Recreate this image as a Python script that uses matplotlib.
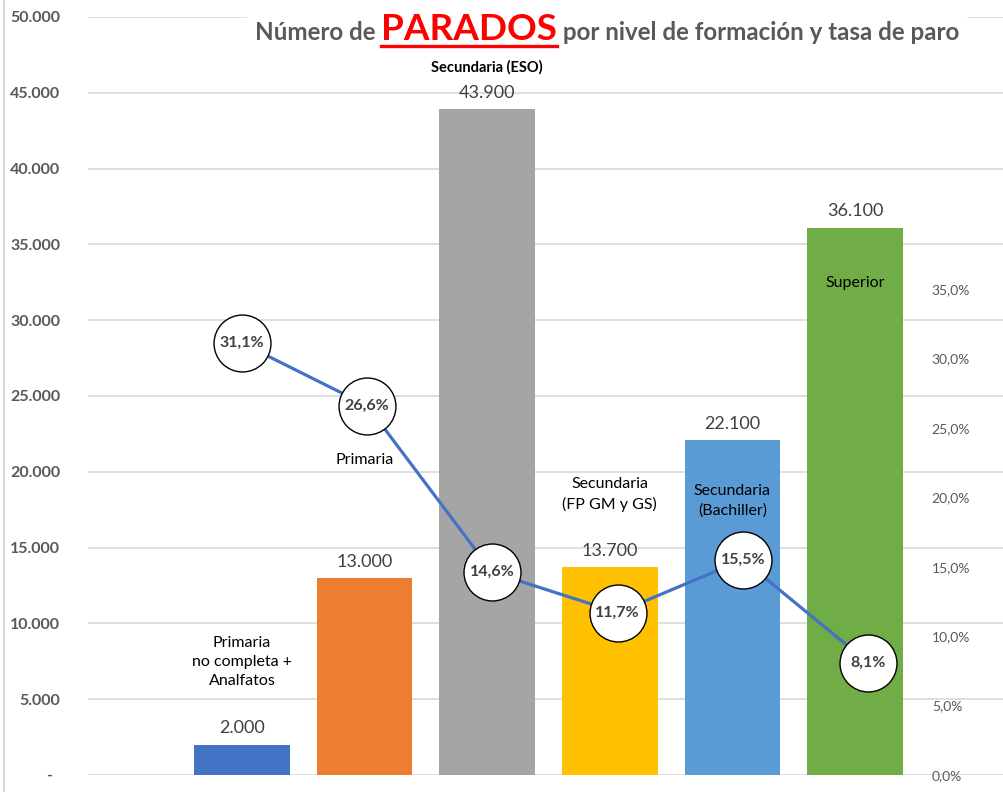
import matplotlib
matplotlib.use("Agg")
import matplotlib.pyplot as plt
from matplotlib.lines import Line2D
from matplotlib.patches import Rectangle

plt.rcParams['font.family'] = ['Lato', 'DejaVu Sans']

# ---- data ----
categories = ["Primaria\nno completa +\nAnalfatos", "Primaria", "Secundaria (ESO)",
              "Secundaria\n(FP GM y GS)", "Secundaria\n(Bachiller)", "Superior"]
parados = [2000, 13000, 43900, 13700, 22100, 36100]
tasa_paro = [0.311, 0.266, 0.146, 0.117, 0.155, 0.081]
bar_colors = ["#4472C4", "#ED7D31", "#A5A5A5", "#FFC000", "#5B9BD5", "#70AD47"]
# y-position (in parados units) where each category label sits
label_y = [7450, 20800, 46650, 18500, 18100, 32450]
label_bold = [False, False, True, False, False, False]
left_ticks = list(range(0, 50001, 5000))
right_ticks = [0.0, 0.05, 0.10, 0.15, 0.20, 0.25, 0.30, 0.35]

W, H = 1004, 792
fig = plt.figure(figsize=(W / 100, H / 100), dpi=100)
fig.patch.set_facecolor('white')

L, Rr, Bt, Tp = 88, 1004, 775, 17
rect = [L / W, 1 - Bt / H, (Rr - L) / W, (Bt - Tp) / H]
ax = fig.add_axes(rect)

x = list(range(len(parados)))
ax.bar(x, parados, width=0.78, color=bar_colors, zorder=2)
ax.set_xlim(-1.256, 6.215)
ax.set_ylim(0, 50000)
ax.set_yticks(left_ticks)
ax.set_yticklabels(["-  " if v == 0 else f"{v:,}".replace(",", ".") for v in left_ticks])
ax.tick_params(axis='y', length=0, pad=20, labelsize=11.5, labelcolor='#595959')
for t in ax.get_yticklabels():
    t.set_fontweight('bold')
ax.set_xticks([])
for s in ax.spines.values():
    s.set_visible(False)
ax.yaxis.grid(True, color='#D9D9D9', lw=1.2)
ax.set_axisbelow(True)

for xi, v in zip(x, parados):
    ax.annotate(f"{v:,}".replace(",", "."), (xi, v), xytext=(0, 6), textcoords='offset points',
                ha='center', va='bottom', fontsize=13, color='#404040', zorder=3)

for xi, lab, ly, b in zip(x, categories, label_y, label_bold):
    ax.text(xi, ly, lab, ha='center', va='center', fontsize=10.5 if b else 11.5,
            fontweight='bold' if b else 'normal', color='black', linespacing=1.45, zorder=3)

# secondary axes for the rate line
ax2 = fig.add_axes(rect, frameon=False)
ax2.patch.set_visible(False)
ax2.set_xlim(-1.23, 6.086)
ax2.set_ylim(0, 0.5459)
ax2.yaxis.tick_right()
ax2.set_xticks([])
ax2.set_yticks(right_ticks)
ax2.set_yticklabels([f"{v*100:.1f}".replace(".", ",") + "%" for v in right_ticks])
ax2.tick_params(axis='y', length=0, pad=-52, labelsize=10, labelcolor='#595959')
ax2.plot(x, tasa_paro, color='#4472C4', lw=2.3, zorder=2)
ax2.plot(x, tasa_paro, 'o', ms=41, mfc='white', mec='black', mew=1.0, zorder=3)
for xi, r in zip(x, tasa_paro):
    ax2.text(xi, r, f"{r*100:.1f}".replace(".", ",") + "%", ha='center', va='center',
             fontsize=11.5, fontweight='bold', color='#404040', zorder=4)

# left border line
fig.add_artist(Line2D([4 / W, 4 / W], [0, 1], color='#D9D9D9', lw=1.5))

# title built from pieces
renderer = fig.canvas.get_renderer()
base_y = 1 - 40 / H
parts = [("Número de ", 17, '#595959'), ("PARADOS", 26, '#FF0000'),
         (" por nivel de formación y tasa de paro", 17, '#595959')]
target_w = 962 - 255

def measure(scale):
    tot = 0
    for s, fs, c in parts:
        t = fig.text(0, 0, s, fontsize=fs * scale, fontweight='bold')
        tot += t.get_window_extent(renderer).width
        t.remove()
    return tot

scale = target_w / measure(1.0)
xpos = 255
bbs = []
for s, fs, c in parts:
    t = fig.text(xpos / W, base_y, s, fontsize=fs * scale, fontweight='bold', color=c,
                 va='baseline', ha='left', zorder=5)
    bb = t.get_window_extent(renderer)
    bbs.append(bb)
    xpos += bb.width
fig.patches.append(Rectangle((247 / W, 1 - 50 / H), (967 - 247) / W, 45 / H,
                             transform=fig.transFigure, facecolor='white', edgecolor='none', zorder=4))
pb = bbs[1]
fig.add_artist(Line2D([pb.x0 / W, pb.x1 / W], [1 - 46 / H, 1 - 46 / H], color='#FF0000', lw=2.4, zorder=6))

fig.savefig("out.png", dpi=100, facecolor='white')
